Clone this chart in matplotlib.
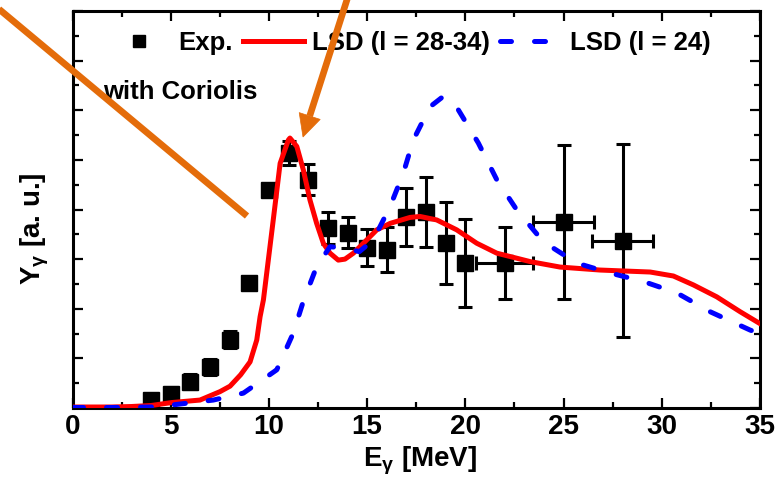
import matplotlib
matplotlib.use('Agg')
import matplotlib.pyplot as plt
from matplotlib.lines import Line2D
from matplotlib.patches import Polygon
from matplotlib.ticker import MultipleLocator
import numpy as np

# ---------------- data ----------------
exp_x = [4, 5, 6, 7, 8, 9, 10, 11, 12, 13, 14, 15, 16, 17, 18, 19, 20, 22, 25, 28]
exp_y = [0.16, 0.28, 0.53, 0.83, 1.38, 2.52, 4.40, 5.14, 4.60, 3.63, 3.53, 3.23,
         3.19, 3.85, 3.95, 3.33, 2.92, 2.92, 3.75, 3.37]
exp_yerr = [0.12, 0.14, 0.15, 0.16, 0.17, 0.1, 0.12, 0.24, 0.31, 0.32, 0.31, 0.37,
            0.45, 0.58, 0.70, 0.83, 0.88, 0.72, 1.55, 1.94]
exp_xerr = [0, 0, 0, 0, 0, 0, 0, 0, 0, 0, 0, 0, 0, 0, 0, 0, 0, 1.45, 1.55, 1.55]

red_x = [0, 2, 3, 4, 5.05, 6.49, 7.51, 8.02, 8.56, 9.04, 9.38, 9.55, 9.72, 10.22,
         10.57, 10.99, 11.07, 11.42, 11.75, 12.09, 12.43, 12.77, 13.11, 13.53, 13.87,
         14.30, 14.81, 15.49, 16.17, 17.18, 17.69, 18.54, 19.56, 20.58, 21.6, 23.3,
         24.82, 26.86, 29.41, 30.59, 31.61, 32.8, 33.99, 35]
red_y = [0.02, 0.02, 0.03, 0.05, 0.11, 0.16, 0.33, 0.44, 0.67, 0.93, 1.37, 1.84, 2.18,
         3.79, 4.93, 5.40, 5.44, 5.27, 4.80, 4.19, 3.72, 3.32, 3.12, 2.98, 3.00, 3.12,
         3.32, 3.59, 3.72, 3.84, 3.86, 3.79, 3.59, 3.32, 3.12, 2.95, 2.84, 2.78, 2.74,
         2.66, 2.48, 2.24, 1.94, 1.70]

blue_x = [0, 2, 4, 5.05, 7.17, 8.7, 10.4, 11.24, 11.75, 12.43, 13.11, 13.96, 14.6,
          15.32, 16.17, 16.84, 17.35, 18.2, 18.88, 19.64, 20.66, 21.6, 22.62, 23.97,
          25.67, 27.37, 29.06, 30.76, 32.46, 34.5, 35]
blue_y = [0.01, 0.01, 0.02, 0.06, 0.16, 0.30, 0.77, 1.51, 2.15, 2.85, 3.25, 3.22, 3.15,
          3.39, 4.06, 4.73, 5.40, 6.07, 6.28, 6.01, 5.34, 4.60, 3.99, 3.35, 2.92, 2.72,
          2.55, 2.32, 1.94, 1.57, 1.50]

legend_labels = ['Exp.', 'LSD (l = 28-34)', 'LSD (l = 24)']
annotation_text = 'with Coriolis'
xlabel_text = r'E$_\gamma$ [MeV]'
ylabel_text = r'Y$_\gamma$ [a. u.]'

# ---------------- style ----------------
plt.rcParams['font.family'] = ['Liberation Sans', 'DejaVu Sans']
plt.rcParams['font.weight'] = 'bold'
plt.rcParams['mathtext.fontset'] = 'custom'
plt.rcParams['mathtext.rm'] = 'Liberation Sans:bold'
plt.rcParams['mathtext.it'] = 'Liberation Sans:bold'
plt.rcParams['mathtext.bf'] = 'Liberation Sans:bold'

W, H = 775, 488
fig = plt.figure(figsize=(W / 100, H / 100), dpi=100)
ax = fig.add_axes([72.5 / W, 1 - 408 / H, 687.5 / W, 397 / H])

ex = np.array(exp_x, float)
ey = np.array(exp_y, float)
eyerr = np.array(exp_yerr, float)
exerr = np.array(exp_xerr, float)
m = exerr > 0

ax.errorbar(ex[~m], ey[~m], yerr=eyerr[~m], fmt='s', color='k', ms=11,
            elinewidth=2.2, capsize=5, capthick=2.2, zorder=3)
ax.errorbar(ex[m], ey[m], yerr=eyerr[m], xerr=exerr[m], fmt='s', color='k', ms=11,
            elinewidth=2.2, capsize=5, capthick=2.2, zorder=3)

ax.plot(red_x, red_y, color='#ff0000', lw=3.6, zorder=4, solid_joinstyle='round')
ax.plot(blue_x, blue_y, color='#0000ff', lw=3.6, ls=(0, (2.2, 4.6)),
        dash_capstyle='round', zorder=4)

ax.set_xlim(0, 35)
ax.set_ylim(0, 8)
ax.xaxis.set_major_locator(MultipleLocator(5))
ax.xaxis.set_minor_locator(MultipleLocator(2.5))
ax.yaxis.set_major_locator(MultipleLocator(1))
ax.yaxis.set_minor_locator(MultipleLocator(0.5))
ax.tick_params(which='both', direction='in', top=True, right=True, width=1.6)
ax.tick_params(which='major', length=7)
ax.tick_params(which='minor', length=4)
ax.tick_params(axis='y', labelleft=False)
ax.tick_params(axis='x', labelsize=20, pad=4)
for lbl in ax.get_xticklabels():
    lbl.set_fontweight('bold')
for s in ax.spines.values():
    s.set_linewidth(2.2)

handles = [Line2D([], [], marker='s', ls='none', color='k', ms=9),
           Line2D([], [], color='#ff0000', lw=3.6),
           Line2D([], [], color='#0000ff', lw=3.6, ls=(0, (2.2, 4.6)), dash_capstyle='round')]
leg = ax.legend(handles, legend_labels, ncol=3, loc='center',
                bbox_to_anchor=(0.490, 0.919), frameon=False,
                prop={'size': 18.5, 'weight': 'bold'},
                handlelength=2.4, handletextpad=0.3, columnspacing=0.4,
                borderpad=0, borderaxespad=0)

ax.text(1.55, 6.37, annotation_text, fontsize=18.5, fontweight='bold',
        ha='left', va='center', zorder=5)

fig.text(35 / W, 1 - 229 / H, ylabel_text, rotation=90, ha='center', va='center',
         fontsize=20, fontweight='bold')
fig.text(420 / W, 1 - 461 / H, xlabel_text, ha='center', va='center',
         fontsize=20, fontweight='bold')

# ---------------- orange overlay arrows ----------------
orange = '#E46C0A'
def fp(px, py):
    return px / W, 1 - py / H

x0, y0 = fp(-5, 5.8)
x1, y1 = fp(247, 216)
fig.add_artist(Line2D([x0, x1], [y0, y1], transform=fig.transFigure, color=orange,
                      lw=4.8, solid_capstyle='butt', zorder=10))
sx, sy = fp(348.5, -5)
bx, by = fp(309.7, 116)
fig.add_artist(Line2D([sx, bx], [sy, by], transform=fig.transFigure, color=orange,
                      lw=4.8, solid_capstyle='butt', zorder=10))
head = Polygon([fp(303, 137), fp(320.2, 119.4), fp(299.2, 112.6)], closed=True,
               transform=fig.transFigure, facecolor=orange, edgecolor=orange, lw=0.5,
               zorder=10)
fig.add_artist(head)

fig.savefig('out.png', dpi=100)
